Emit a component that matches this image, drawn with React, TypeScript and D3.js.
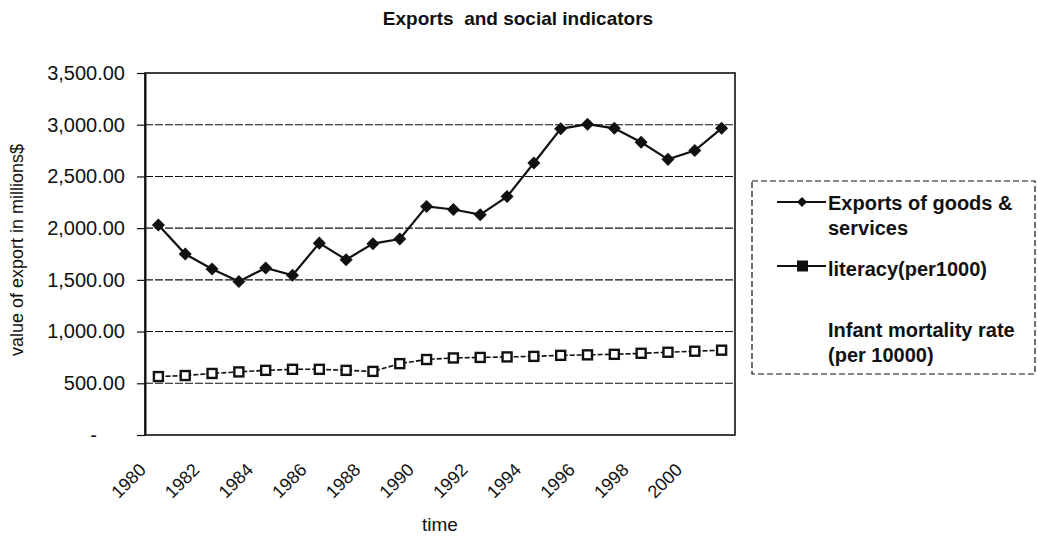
import React, { useEffect, useRef } from "react";
import * as d3 from "d3";

const years = [
  1980, 1981, 1982, 1983, 1984, 1985, 1986, 1987, 1988, 1989, 1990,
  1991, 1992, 1993, 1994, 1995, 1996, 1997, 1998, 1999, 2000, 2001,
];
const exportsValues = [
  2030, 1750, 1605, 1485, 1615, 1545, 1855, 1695, 1850, 1895, 2210,
  2180, 2130, 2305, 2630, 2960, 3005, 2965, 2830, 2665, 2750, 2965,
];
const literacyValues = [
  565, 575, 595, 610, 625, 635, 635, 625, 615, 690, 730,
  745, 750, 755, 760, 770, 775, 780, 790, 800, 810, 820,
];
const yTicks = [0, 500, 1000, 1500, 2000, 2500, 3000, 3500];
const xTickLabels = ["1980", "1982", "1984", "1986", "1988", "1990", "1992", "1994", "1996", "1998", "2000"];
const legendLines = [
  ["Exports of goods &", "services"],
  ["literacy(per1000)"],
  ["Infant mortality rate", "(per 10000)"],
];

export default function App() {
  const svgRef = useRef<SVGSVGElement>(null);

  useEffect(() => {
    const svg = d3.select(svgRef.current);
    svg.selectAll("*").remove();
    const width = 1038;
    const height = 538;
    const margin = { top: 73, right: 303, bottom: 103, left: 145 };
    const font = "'Liberation Sans', Arial, sans-serif";
    const ink = "#111";

    svg.append("rect").attr("width", width).attr("height", height).attr("fill", "#fff");

    const x = d3
      .scaleBand<string>()
      .domain(years.map(String))
      .range([margin.left, width - margin.right]);
    const y = d3
      .scaleLinear()
      .domain([0, 3500])
      .range([height - margin.bottom, margin.top]);
    const cx = (i: number) => (x(String(years[i])) as number) + x.bandwidth() / 2;

    // title
    svg
      .append("text")
      .attr("x", 518)
      .attr("y", 25)
      .attr("text-anchor", "middle")
      .style("white-space", "pre")
      .attr("font-family", font)
      .attr("font-size", 19)
      .attr("font-weight", "bold")
      .attr("fill", ink)
      .text("Exports  and social indicators");

    // gridlines
    svg
      .append("g")
      .selectAll("line")
      .data(yTicks.filter((d) => d > 0 && d < 3500))
      .enter()
      .append("line")
      .attr("x1", margin.left)
      .attr("x2", width - margin.right)
      .attr("y1", (d) => y(d))
      .attr("y2", (d) => y(d))
      .attr("stroke", ink)
      .attr("stroke-width", 1.1)
      .attr("stroke-dasharray", "8,2");

    // plot border
    svg
      .append("rect")
      .attr("x", margin.left)
      .attr("y", margin.top)
      .attr("width", width - margin.left - margin.right)
      .attr("height", height - margin.top - margin.bottom)
      .attr("fill", "none")
      .attr("stroke", ink)
      .attr("stroke-width", 1.6);

    // y axis
    const yAxis = svg
      .append("g")
      .attr("transform", `translate(${margin.left},0)`)
      .call(
        d3
          .axisLeft(y)
          .tickValues(yTicks)
          .tickSize(8)
          .tickSizeOuter(0)
          .tickPadding(12)
          .tickFormat((d) => (d === 0 ? "-" : d3.format(",.2f")(d as number)))
      );
    yAxis.select(".domain").attr("stroke", ink).attr("stroke-width", 2);
    yAxis.selectAll(".tick line").attr("stroke", ink).attr("stroke-width", 1.2);
    yAxis
      .selectAll(".tick text")
      .attr("font-family", font)
      .attr("font-size", 20)
      .attr("fill", ink)
      .filter((d) => d === 0)
      .attr("x", -48);

    svg
      .append("text")
      .attr("transform", "translate(23,250) rotate(-90)")
      .attr("text-anchor", "middle")
      .attr("font-family", font)
      .attr("font-size", 18)
      .attr("fill", ink)
      .text("value of export in millions$");

    // x axis labels
    svg
      .append("g")
      .selectAll("text")
      .data(xTickLabels)
      .enter()
      .append("text")
      .attr("transform", (d) => `translate(${(x(d) as number) + 2},471) rotate(-45)`)
      .attr("text-anchor", "end")
      .attr("font-family", font)
      .attr("font-size", 18)
      .attr("fill", ink)
      .text((d) => d);

    svg
      .append("text")
      .attr("x", (margin.left + width - margin.right) / 2)
      .attr("y", 531)
      .attr("text-anchor", "middle")
      .attr("font-family", font)
      .attr("font-size", 19)
      .attr("fill", ink)
      .text("time");

    // series
    const line = d3
      .line<number>()
      .x((d, i) => cx(i))
      .y((d) => y(d));

    svg
      .append("path")
      .datum(literacyValues)
      .attr("d", line)
      .attr("fill", "none")
      .attr("stroke", ink)
      .attr("stroke-width", 1.6)
      .attr("stroke-dasharray", "5,2");
    svg
      .append("g")
      .selectAll("rect")
      .data(literacyValues)
      .enter()
      .append("rect")
      .attr("x", (d, i) => cx(i) - 4.5)
      .attr("y", (d) => y(d) - 4.5)
      .attr("width", 9)
      .attr("height", 9)
      .attr("fill", "#fff")
      .attr("stroke", ink)
      .attr("stroke-width", 2.4);

    svg
      .append("path")
      .datum(exportsValues)
      .attr("d", line)
      .attr("fill", "none")
      .attr("stroke", ink)
      .attr("stroke-width", 2.2);
    svg
      .append("g")
      .selectAll("path")
      .data(exportsValues)
      .enter()
      .append("path")
      .attr("d", d3.symbol(d3.symbolSquare, 85)())
      .attr("transform", (d, i) => `translate(${cx(i)},${y(d)}) rotate(45)`)
      .attr("fill", ink);

    // legend
    const lg = svg.append("g");
    lg.append("rect")
      .attr("x", 752)
      .attr("y", 181)
      .attr("width", 283)
      .attr("height", 193)
      .attr("fill", "#fff")
      .attr("stroke", ink)
      .attr("stroke-width", 1.2)
      .attr("stroke-dasharray", "6,3");

    const rowBase = [210, 276, 337];
    const rowMark = [202, 266];
    legendLines.forEach((lines, k) => {
      lines.forEach((t, j) => {
        lg.append("text")
          .attr("x", 828)
          .attr("y", rowBase[k] + j * 25)
          .attr("font-family", font)
          .attr("font-size", 20)
          .attr("font-weight", "bold")
          .attr("fill", ink)
          .text(t);
      });
      if (k < 2) {
        lg.append("line")
          .attr("x1", 777)
          .attr("x2", 826)
          .attr("y1", rowMark[k])
          .attr("y2", rowMark[k])
          .attr("stroke", ink)
          .attr("stroke-width", 2.2);
      }
    });
    lg.append("path")
      .attr("d", d3.symbol(d3.symbolSquare, 50)())
      .attr("transform", `translate(802,${rowMark[0]}) rotate(45)`)
      .attr("fill", ink);
    lg.append("rect")
      .attr("x", 797)
      .attr("y", rowMark[1] - 5.5)
      .attr("width", 11)
      .attr("height", 11)
      .attr("fill", ink);
  }, []);

  return (
    <div style={{ position: "absolute", left: 0, top: 0 }}>
      <svg ref={svgRef} width={1038} height={538} style={{ display: "block" }} />
    </div>
  );
}
